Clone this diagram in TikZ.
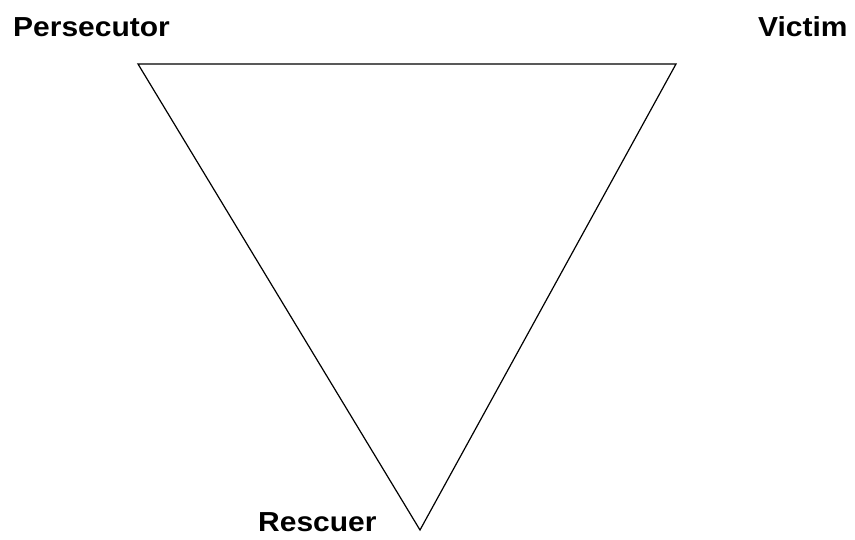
\documentclass[tikz,border=0pt]{standalone}
\usepackage{fontspec}
\setmainfont{Liberation Sans}
\newcommand{\wide}[1]{\scalebox{1.09}[1]{#1}}

\begin{document}
\begin{tikzpicture}[x=1pt, y=-1pt, every node/.style={inner sep=0pt, anchor=base west, font=\fontsize{27.5}{32}\selectfont\bfseries}]
				\useasboundingbox (0,0) rectangle (855,539);
				
				\coordinate (p) at (138,64);
				\coordinate (v) at (676,64);
				\coordinate (r) at (420,530);
				
				\node (pers) at (13,36) {\wide{Persecutor}};
				\node (vict) at (758,36) {\wide{Victim}};
				\node (resc) at (258,531) {\wide{Rescuer}};
				
				\draw[line width=1.2pt, line join=miter] (p) -- (v) -- (r) -- cycle;
			\end{tikzpicture}
\end{document}
